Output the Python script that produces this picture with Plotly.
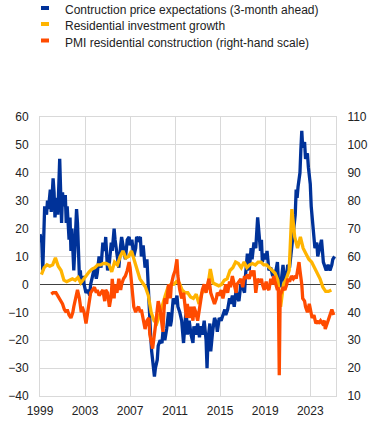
import plotly.graph_objects as go

# ---------------- data ----------------
# Construction price expectations (3-month ahead), balance, left scale
blue_dates = [
    "1999-01", "1999-03", "1999-04", "1999-06", "1999-08", "1999-09", "1999-10", "1999-12",
    "2000-01", "2000-03", "2000-04", "2000-05", "2000-07", "2000-08", "2000-10", "2000-11", "2000-12",
    "2001-01", "2001-02", "2001-04", "2001-05", "2001-06", "2001-08", "2001-09", "2001-10", "2001-11",
    "2002-01", "2002-02", "2002-04", "2002-05", "2002-06", "2002-07", "2002-08", "2002-09", "2002-11", "2002-12",
    "2003-02", "2003-04", "2003-06", "2003-07", "2003-09", "2003-11",
    "2004-01", "2004-02", "2004-04", "2004-06", "2004-08", "2004-10", "2004-11",
    "2005-01", "2005-03", "2005-05", "2005-06", "2005-08", "2005-09", "2005-11",
    "2006-01", "2006-03", "2006-04", "2006-06", "2006-08", "2006-10", "2006-12",
    "2007-01", "2007-03", "2007-05", "2007-07", "2007-08", "2007-10", "2007-12",
    "2008-01", "2008-03", "2008-05", "2008-07", "2008-08", "2008-09", "2008-10", "2008-11", "2008-12",
    "2009-02", "2009-03", "2009-04", "2009-06", "2009-07", "2009-09", "2009-11", "2009-12",
    "2010-02", "2010-04", "2010-06", "2010-08", "2010-09", "2010-11",
    "2011-01", "2011-03", "2011-04", "2011-06", "2011-08", "2011-10", "2011-12",
    "2012-01", "2012-02", "2012-04", "2012-06", "2012-08", "2012-09", "2012-11",
    "2013-01", "2013-03", "2013-04", "2013-06", "2013-08", "2013-10", "2013-11", "2013-12",
    "2014-02", "2014-03", "2014-05", "2014-07", "2014-09", "2014-10", "2014-12",
    "2015-02", "2015-04", "2015-06", "2015-07", "2015-09", "2015-11", "2015-12",
    "2016-02", "2016-04", "2016-06", "2016-07", "2016-09", "2016-11",
    "2017-01", "2017-03", "2017-04", "2017-06", "2017-08", "2017-10", "2017-11",
    "2018-01", "2018-03", "2018-05", "2018-07", "2018-08", "2018-09", "2018-10", "2018-12",
    "2019-02", "2019-03", "2019-05", "2019-07", "2019-09", "2019-10", "2019-12",
    "2020-02", "2020-03", "2020-05", "2020-06", "2020-08", "2020-10", "2020-12",
    "2021-01", "2021-03", "2021-05", "2021-07", "2021-09", "2021-10", "2021-11", "2021-12",
    "2022-02", "2022-03", "2022-04", "2022-05", "2022-07", "2022-08", "2022-10", "2022-11",
    "2023-01", "2023-02", "2023-04", "2023-06", "2023-08", "2023-09", "2023-11",
    "2024-01", "2024-03", "2024-05", "2024-06", "2024-08", "2024-10", "2024-12",
    "2025-01", "2025-03",
]
blue_values = [
    18, 15, 5, 28, 25, 30, 27, 34,
    26, 38, 33, 24, 31, 25, 45, 35, 22,
    33, 28, 32, 22, 28, 16, 24, 12, 20,
    5, 12, 27, 22, 10, 3, 5, 0, 3, 0,
    -3, -2, -4, 0, 3, 6,
    2, 4, 10, 6, 15, 12, 17,
    5, 8, 15, 12, 20, 16, 10,
    6, 14, 17, 13, 9, 16, 17,
    14, 16, 10, 13, 17, 16, 17,
    10, 14, 6, 9, 0, -5, -10, -19, -24,
    -30, -33, -30, -27, -22, -20, -21, -17,
    -20, -16, -10, -15, -13, -5,
    -7, -4, -8, -10, -13, -21, -12,
    -10, -18, -13, -18, -21, -15, -18,
    -14, -19, -15, -18, -13, -20, -30, -20,
    -14, -24, -17, -12, -14, -17, -12,
    -13, -11, -9, -11, -9, -5, -7,
    -4, -8, -2, -4, -6, 0,
    -1, -3, 3, 11, 5, 13, 9,
    15, 13, 24, 16, 12, 16, 8, 11,
    9, 12, 5, 6, 3, 5, 4,
    8, 2, -1, 1, 7, 0, 4,
    7, 6, 12, 18, 25, 34, 31, 35,
    40, 48, 55, 49, 51, 45, 47, 42,
    36, 28, 20, 13, 15, 10, 13,
    16, 8, 6, 5, 7, 5, 7,
    9, 10,
]

# Residential investment growth (quarterly, % y-o-y), left scale, 1999Q1-2024Q4
yellow_years = list(range(1999, 2025))
yellow_values = [
    3.5, 6, 7, 6.5,      # 1999
    7, 9.5, 6.5, 5,      # 2000
    1.5, 1, 1.5, 2,      # 2001
    1.5, 2.5, 0.5, 2,    # 2002
    3.5, 4.5, 5.5, 6,    # 2003
    7, 7, 7.5, 7.5,      # 2004
    7, 4.5, 8, 7,        # 2005
    10, 12, 9.5, 10,     # 2006
    12, 8.5, 5, 2,       # 2007
    0.5, -1, -4, -10,    # 2008
    -13, -14, -11, -7,   # 2009
    -4, -1, 0, 0,        # 2010
    1, 0.5, -2, -3,      # 2011
    -3, -4.5, -5, -3.5,  # 2012
    -7, -3, -2, -1.5,    # 2013
    5.5, 0.5, 0, -0.5,   # 2014
    0, 1.5, 2, 5,        # 2015
    6, 8, 7.5, 6,        # 2016
    8, 6, 7, 7.5,        # 2017
    7, 8, 8, 7,          # 2018
    7, 6, 5, 4,          # 2019
    1.5, -8, 0, 2,       # 2020
    5, 27, 17, 13,       # 2021
    17, 13, 11, 9,       # 2022
    8, 6, 3.5, 2,        # 2023
    -1, -2.5, -2.5, -2,  # 2024
]
yellow_months = [2, 5, 8, 11]
yellow_dates = [f"{y}-{m:02d}-15" for y in yellow_years for m in yellow_months]

# PMI residential construction (index), right-hand scale
pmi_dates = [
    "2000-01", "2000-03", "2000-06", "2000-08", "2000-10", "2000-11",
    "2001-01", "2001-03", "2001-05", "2001-06", "2001-08", "2001-10", "2001-12",
    "2002-01", "2002-03", "2002-05", "2002-07", "2002-09", "2002-10", "2002-12",
    "2003-02", "2003-04", "2003-06", "2003-07", "2003-09", "2003-11",
    "2004-01", "2004-02", "2004-04", "2004-06", "2004-08", "2004-10", "2004-11",
    "2005-01", "2005-03", "2005-05", "2005-06", "2005-08", "2005-09", "2005-11",
    "2006-01", "2006-03", "2006-04", "2006-06", "2006-08", "2006-10", "2006-12",
    "2007-01", "2007-03", "2007-04", "2007-05", "2007-07", "2007-08", "2007-10", "2007-12",
    "2008-01", "2008-03", "2008-05", "2008-07", "2008-09", "2008-10", "2008-12",
    "2009-01", "2009-04", "2009-05", "2009-07", "2009-09", "2009-12",
    "2010-01", "2010-02", "2010-04", "2010-06", "2010-08", "2010-09", "2010-11",
    "2011-01", "2011-03", "2011-04", "2011-06", "2011-08", "2011-10", "2011-12",
    "2012-01", "2012-02", "2012-04", "2012-06", "2012-08", "2012-09", "2012-11",
    "2013-01", "2013-03", "2013-04", "2013-06", "2013-08", "2013-10", "2013-11",
    "2014-01", "2014-03", "2014-05", "2014-07", "2014-09", "2014-10", "2014-12",
    "2015-02", "2015-04", "2015-06", "2015-07", "2015-09", "2015-11", "2015-12",
    "2016-02", "2016-04", "2016-06", "2016-07", "2016-09", "2016-11",
    "2017-01", "2017-03", "2017-04", "2017-06", "2017-08", "2017-10", "2017-11",
    "2018-01", "2018-03", "2018-05", "2018-07", "2018-08", "2018-09", "2018-10", "2018-12",
    "2019-02", "2019-03", "2019-05", "2019-07", "2019-09", "2019-10", "2019-12",
    "2020-02", "2020-03", "2020-04", "2020-05", "2020-06", "2020-08", "2020-10", "2020-12",
    "2021-01", "2021-03", "2021-05", "2021-07", "2021-09", "2021-10", "2021-12",
    "2022-01", "2022-02", "2022-04", "2022-05", "2022-07", "2022-08", "2022-10", "2022-12",
    "2023-02", "2023-03", "2023-05", "2023-07", "2023-09", "2023-10", "2023-12",
    "2024-02", "2024-04", "2024-05", "2024-07", "2024-09", "2024-11", "2024-12",
    "2025-02",
]
pmi_values = [
    46.5, 47, 47, 46, 45, 44,
    43, 41, 40, 41, 39, 38, 40,
    42, 45, 48, 45, 40, 42, 40,
    36, 40, 44, 47, 48, 49,
    47, 48, 46, 47, 48, 44, 48,
    47, 42, 46, 52,
    45, 50, 47,
    52, 48, 50, 52, 53, 55, 58,
    56, 48, 43, 42, 40, 41, 42, 40,
    41, 38, 34, 37, 38, 32, 28,
    27, 35, 38, 44, 41, 33,
    40, 45, 43, 50, 45, 50, 53,
    55, 59, 53, 48, 45, 47, 40,
    38, 43, 38, 42, 37, 42, 40,
    37, 42, 45, 48, 50, 47, 49,
    52, 47, 45, 43, 45, 47, 46,
    48, 45, 48, 50, 47, 51, 49,
    53, 50, 47, 50, 51, 52,
    49, 53, 52, 53.5, 52, 55, 53,
    55, 47, 52, 51, 51, 52, 50, 48,
    51, 49, 48, 52, 50, 53, 50,
    48, 49, 17.4, 47, 47, 49, 48, 50,
    52, 51, 53, 52, 53, 52, 57,
    58, 55, 50, 45, 44, 42, 40, 43,
    40, 38, 39, 36, 37, 36, 37,
    36, 37, 34, 36, 38, 40, 41,
    39,
]

x_ticks_years = [1999, 2003, 2007, 2011, 2015, 2019, 2023]
left_ticks = [-40, -30, -20, -10, 0, 10, 20, 30, 40, 50, 60]
right_ticks = [10, 20, 30, 40, 50, 60, 70, 80, 90, 100, 110]

legend_labels = [
    "Contruction price expectations (3-month ahead)",
    "Residential investment growth",
    "PMI residential construction (right-hand scale)",
]
colors = ["#003299", "#FFB400", "#FF4B00"]

# ---------------- figure ----------------
FONT = "Arial, Liberation Sans, sans-serif"
W, H = 372, 424
ML, MR, MT, MB = 40, 36, 117, 28
PW, PH = W - ML - MR, H - MT - MB

fig = go.Figure()
fig.add_trace(go.Scatter(x=blue_dates, y=blue_values, mode="lines", name=legend_labels[0],
                         line=dict(color=colors[0], width=3.3), showlegend=False))
fig.add_trace(go.Scatter(x=yellow_dates, y=yellow_values, mode="lines", name=legend_labels[1],
                         line=dict(color=colors[1], width=3.3), showlegend=False))
fig.add_trace(go.Scatter(x=pmi_dates, y=pmi_values, mode="lines", name=legend_labels[2],
                         line=dict(color=colors[2], width=3.3), showlegend=False, yaxis="y2"))

# manual legend (swatches + text)
row_y = [10, 26, 42.5]
for lab, col, py in zip(legend_labels, colors, row_y):
    fig.add_shape(type="rect", xref="paper", yref="paper",
                  x0=(41 - ML) / PW, x1=(49 - ML) / PW,
                  y0=(H - MB - (py - 4)) / PH, y1=(H - MB - (py)) / PH,
                  fillcolor=col, line=dict(width=0))
    fig.add_annotation(x=(63 - ML) / PW, y=(H - MB - py) / PH, xref="paper", yref="paper",
                       text=lab, showarrow=False, xanchor="left", yanchor="middle",
                       font=dict(family=FONT, size=12, color="#222222"))

grid = "#d9d9d9"
fig.update_layout(
    width=W, height=H,
    margin=dict(l=ML, r=MR, t=MT, b=MB, pad=0, autoexpand=False),
    paper_bgcolor="white", plot_bgcolor="white",
    font=dict(family=FONT, size=12, color="#222222"),
    showlegend=False,
    xaxis=dict(
        type="date", automargin=False,
        range=["1999-01-01", "2025-04-15"],
        tickvals=[f"{y}-01-01" for y in x_ticks_years],
        ticktext=[str(y) for y in x_ticks_years],
        showgrid=True, gridcolor=grid, gridwidth=1,
        showline=True, linecolor=grid, linewidth=1, mirror=True,
        ticks="", ticklabelstandoff=4,
        tickfont=dict(family=FONT, size=12, color="#222222"),
    ),
    yaxis=dict(
        range=[-40, 60], tickvals=left_ticks, automargin=False,
        showgrid=True, gridcolor=grid, gridwidth=1,
        zeroline=True, zerolinecolor="#404040", zerolinewidth=1,
        showline=True, linecolor=grid, linewidth=1,
        ticks="", ticklabelstandoff=8,
        tickfont=dict(family=FONT, size=12, color="#222222"),
    ),
    yaxis2=dict(
        range=[10, 110], tickvals=right_ticks, overlaying="y", side="right", automargin=False,
        showgrid=False, zeroline=False,
        showline=True, linecolor=grid, linewidth=1,
        ticks="", ticklabelstandoff=8,
        tickfont=dict(family=FONT, size=12, color="#222222"),
    ),
)

fig.write_html("out.html", config={"displayModeBar": False},
               post_script="document.body.style.margin='0px';")
